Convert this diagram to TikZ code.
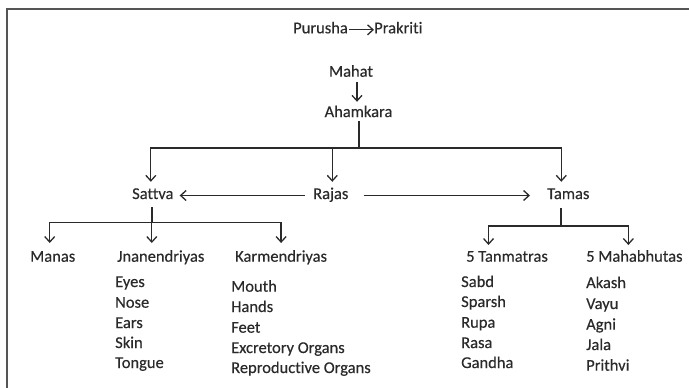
\documentclass[tikz,border=0pt]{standalone}
\usepackage{fontspec}
\setmainfont{Carlito}[Ligatures=CommonOff, FakeBold=0.35, BoldFont=Carlito]
\usetikzlibrary{arrows.meta,calc}
\definecolor{ink}{HTML}{2A2A2A}
\definecolor{frame}{HTML}{555555}
\tikzset{
  lbl/.style={font=\fontsize{16.5}{19}\selectfont\bfseries, text=ink, inner sep=0pt, text height=11pt, text depth=4pt, anchor=base west},
  ln/.style={draw=ink, line width=1.3pt},
  arr/.style={ln, -{Straight Barb[length=5.5pt,width=10pt,line width=1.3pt]}},
}
\begin{document}
\begin{tikzpicture}[x=1pt,y=-1pt]
\useasboundingbox (0,0) rectangle (689,388);
\clip (0,0) rectangle (689,388);
\draw[draw=frame, line width=2pt] (7,400) -- (7,8.5) -- (700,8.5);

% top
\node[lbl] (pur) at (293,33.3) {Purusha};
\node[lbl] (pra) at (374,33.3) {Prakriti};
\draw[arr, shorten <=1pt] (pur.east) -- (pra.west);

\node[lbl,anchor=base] (mah) at (351,76.7) {Mahat};
\node[lbl,anchor=base] (aha) at (358.5,117) {Ahamkara};
\draw[arr, shorten <=1pt, shorten >=4pt] (mah.south -| 357,0) -- (aha.north -| 357,0);

\coordinate (hb) at (359,148);
\node[lbl] (sat) at (132,199) {Sattva};
\node[lbl] (raj) at (313,199) {Rajas};
\node[lbl] (tam) at (547,199) {Tamas};

\draw[ln] (aha.south -| hb) -- (hb);
\draw[arr, shorten >=6pt] (hb) -| ([xshift=-2pt]sat.north);
\draw[arr, shorten >=6pt] (hb) -| ([xshift=1.5pt]raj.north);
\draw[arr, shorten >=6pt] (hb) -| ([xshift=-7pt]tam.north);

\draw[arr, shorten <=8pt, shorten >=6pt] (raj.west) -- (sat.east);
\draw[arr, shorten <=15pt, shorten >=17pt] (raj.east) -- (tam.west);

% second level
\node[lbl] (man) at (30,261.7) {Manas};
\node[lbl] (jna) at (117,261.7) {Jnanendriyas};
\node[lbl] (kar) at (235,261.7) {Karmendriyas};
\node[lbl] (tan) at (466,261.7) {5 Tanmatras};
\node[lbl] (mhb) at (586,261.7) {5 Mahabhutas};

\coordinate (sb) at (152,222.7);
\coordinate (tb) at (561,226);
\draw[ln, shorten <=4pt] (sat.south -| sb) -- (sb);
\draw[arr, shorten >=7.5pt] (sb) -| ([xshift=-3pt]man.north);
\draw[arr, shorten >=7.5pt] (sb) -| ([xshift=-9pt]jna.north);
\draw[arr, shorten >=7.5pt] (sb) -| ([xshift=0pt]kar.north);
\draw[ln, shorten <=5pt] (tam.south -| tb) -- (tb);
\draw[arr, shorten >=5.5pt] (tb) -| ([xshift=-18.5pt]tan.north);
\draw[arr, shorten >=5.5pt] (tb) -| ([xshift=-6pt]mhb.north);

% lists
\node[lbl] (j1) at (115,287) {Eyes};
\node[lbl] (j2) at (115,307.7) {Nose};
\node[lbl] (j3) at (115,328) {Ears};
\node[lbl] (j4) at (115,348) {Skin};
\node[lbl] (j5) at (115,368) {Tongue};

\node[lbl] (k1) at (231,291.7) {Mouth};
\node[lbl] (k2) at (231,312) {Hands};
\node[lbl] (k3) at (231,332.7) {Feet};
\node[lbl] (k4) at (231,353) {Excretory Organs};
\node[lbl] (k5) at (231,373) {Reproductive Organs};

\node[lbl] (t1) at (461,287) {Sabd};
\node[lbl] (t2) at (461,307) {Sparsh};
\node[lbl] (t3) at (461,327.7) {Rupa};
\node[lbl] (t4) at (461,348) {Rasa};
\node[lbl] (t5) at (461,368) {Gandha};

\node[lbl] (m1) at (586,288) {Akash};
\node[lbl] (m2) at (586,309) {Vayu};
\node[lbl] (m3) at (586,329.7) {Agni};
\node[lbl] (m4) at (586,350) {Jala};
\node[lbl] (m5) at (586,370.7) {Prithvi};
\end{tikzpicture}
\end{document}
